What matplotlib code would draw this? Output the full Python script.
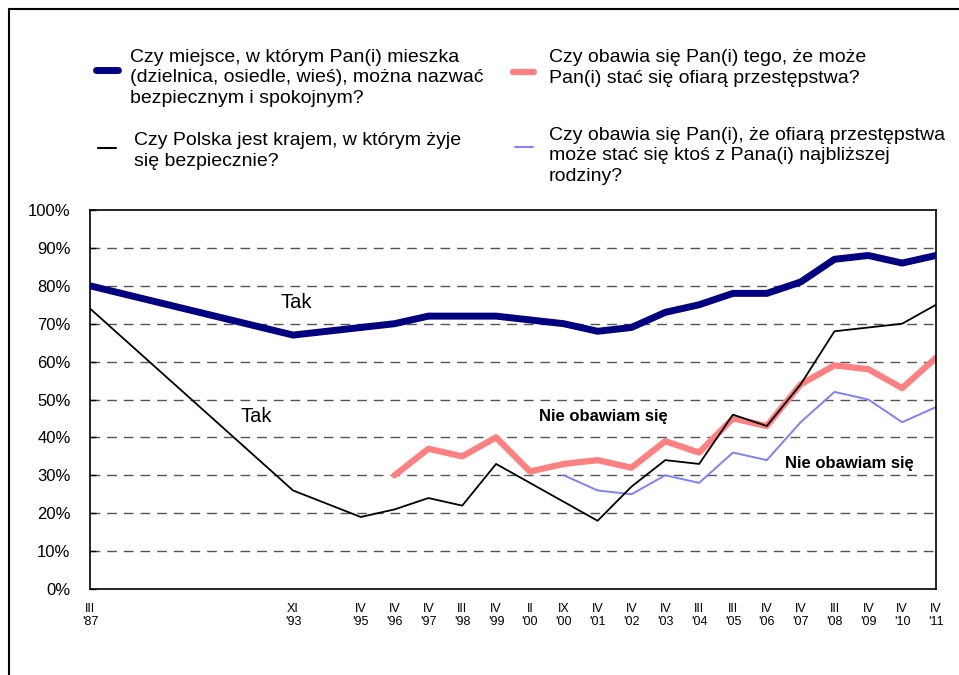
import matplotlib.pyplot as plt
from matplotlib.lines import Line2D
from matplotlib.patches import Rectangle

plt.rcParams['font.family'] = ['Liberation Sans', 'DejaVu Sans']

# survey waves (slot index on the category axis) and their labels
slots = [0, 6, 8, 9, 10, 11, 12, 13, 14, 15, 16, 17, 18, 19, 20, 21, 22, 23, 24, 25]
tick_labels = ["III\n'87", "XI\n'93", "IV\n'95", "IV\n'96", "IV\n'97", "III\n'98", "IV\n'99",
               "II\n'00", "IX\n'00", "IV\n'01", "IV\n'02", "IV\n'03", "III\n'04", "III\n'05",
               "IV\n'06", "IV\n'07", "III\n'08", "IV\n'09", "IV\n'10", "IV\n'11"]

# neighbourhood safe and quiet - "Tak"
x_place = [0, 6, 8, 9, 10, 11, 12, 13, 14, 15, 16, 17, 18, 19, 20, 21, 22, 23, 24, 25]
place = [80, 67, 69, 70, 72, 72, 72, 71, 70, 68, 69, 73, 75, 78, 78, 81, 87, 88, 86, 88]

# Poland is a safe country - "Tak"
x_poland = [0, 6, 8, 9, 10, 11, 12, 15, 16, 17, 18, 19, 20, 21, 22, 23, 24, 25]
poland = [74, 26, 19, 21, 24, 22, 33, 18, 27, 34, 33, 46, 43, 54, 68, 69, 70, 75]

# not afraid of becoming a victim - "Nie obawiam się"
x_self = [9, 10, 11, 12, 13, 14, 15, 16, 17, 18, 19, 20, 21, 22, 23, 24, 25]
self_fear = [30, 37, 35, 40, 31, 33, 34, 32, 39, 36, 45, 43, 54, 59, 58, 53, 61]

# not afraid for the closest family - "Nie obawiam się"
x_family = [14, 15, 16, 17, 18, 19, 20, 21, 22, 23, 24, 25]
family_fear = [30, 26, 25, 30, 28, 36, 34, 44, 52, 50, 44, 48]

NAVY = '#000080'
RED = '#FF8080'
BLUE = '#8080FF'

fig = plt.figure(figsize=(9.59, 6.75), dpi=100)
ax = fig.add_axes([90 / 959, 1 - 589 / 675, 846 / 959, 379 / 675])

for y in range(10, 100, 10):
    ax.axhline(y, color='#555555', lw=1.0, dashes=(7, 5), zorder=1)

ax.plot(x_place, place, color=NAVY, lw=5, solid_capstyle='round', zorder=3)
ax.plot(x_poland, poland, color='black', lw=1.3, zorder=4)
ax.plot(x_self, self_fear, color=RED, lw=4.5, solid_capstyle='round', zorder=2)
ax.plot(x_family, family_fear, color=BLUE, lw=1.4, zorder=2)

ax.set_xlim(0, 25)
ax.set_ylim(0, 100)
ax.set_yticks(range(0, 101, 10))
ax.set_yticklabels([f'{v}%' for v in range(0, 101, 10)], fontsize=12)
ax.tick_params(axis='y', direction='in', length=4, width=1, pad=14)
ax.set_xticks(slots)
ax.set_xticklabels(tick_labels, fontsize=9, linespacing=1.1)
ax.tick_params(axis='x', length=0, pad=10)
for s in ax.spines.values():
    s.set_linewidth(1.2)

ax.annotate('Tak', xy=(6.1, 75.5), fontsize=14.5, ha='center', va='center')
ax.annotate('Tak', xy=(4.9, 45.5), fontsize=14.5, ha='center', va='center')
ax.annotate('Nie obawiam się', xy=(15.17, 45.5), fontsize=12, fontweight='bold', ha='center', va='center')
ax.annotate('Nie obawiam się', xy=(22.43, 33.2), fontsize=12, fontweight='bold', ha='center', va='center')

# legend drawn by hand in figure pixels
def fx(px):
    return px / 959

def fy(py):
    return 1 - py / 675

legend_items = [
    (96, 118, 70, NAVY, 5, 130, 78,
     'Czy miejsce, w którym Pan(i) mieszka\n(dzielnica, osiedle, wieś), można nazwać\nbezpiecznym i spokojnym?'),
    (98, 116, 148, 'black', 1.5, 134, 151,
     'Czy Polska jest krajem, w którym żyje\nsię bezpiecznie?'),
    (513, 534, 72, RED, 4.5, 549, 68,
     'Czy obawia się Pan(i) tego, że może\nPan(i) stać się ofiarą przestępstwa?'),
    (515, 533, 147, BLUE, 1.4, 549, 156,
     'Czy obawia się Pan(i), że ofiarą przestępstwa\nmoże stać się ktoś z Pana(i) najbliższej\nrodziny?'),
]
for x0, x1, ly, col, lw, tx, ty, label in legend_items:
    fig.add_artist(Line2D([fx(x0), fx(x1)], [fy(ly), fy(ly)], color=col, lw=lw,
                          solid_capstyle='round', transform=fig.transFigure))
    fig.text(fx(tx), fy(ty), label, fontsize=14, va='center', ha='left', linespacing=1.3)

# outer frame (only left and top edges are visible)
fig.add_artist(Rectangle((fx(9), -0.1), 1.2, fy(9) + 0.1, fill=False, edgecolor='black',
                         lw=1.5, transform=fig.transFigure))

fig.savefig('out.png', dpi=100)
